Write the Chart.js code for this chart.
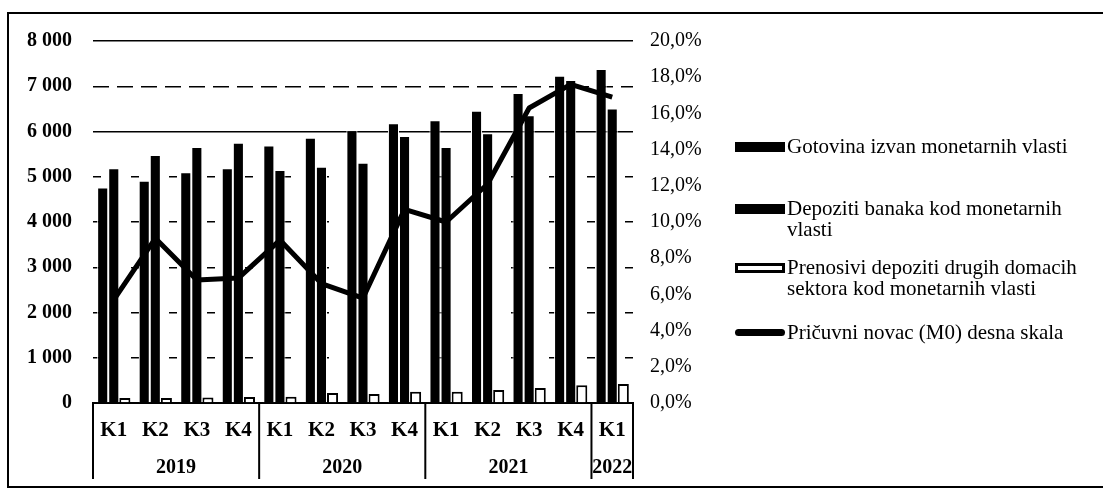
<!DOCTYPE html>
<html>
<head>
<meta charset="utf-8">
<script src="https://cdn.jsdelivr.net/npm/chart.js@4/dist/chart.umd.min.js"></script>
<style>
  body { margin: 0; background: #fff; }
  #wrap { position: relative; width: 1103px; height: 488px; overflow: hidden; }
  #frame { position: absolute; left: 7px; top: 12px; width: 1120px; height: 476px; box-sizing: border-box; border: 2px solid #000; pointer-events: none; }
  #legend { position: absolute; left: 0; top: 0; font-family: "Liberation Serif", serif; font-size: 21px; line-height: 21px; color: #000; }
  .item { position: absolute; left: 735px; }
  .mark { position: absolute; left: 0; width: 50px; box-sizing: border-box; }
  .txt { position: absolute; left: 52px; white-space: nowrap; }
</style>
</head>
<body>
<div id="wrap">
  <canvas id="c" width="1103" height="488"></canvas>
  <div id="frame"></div>
  <div id="legend"></div>
</div>
<script>
// quarters and year groups
const quarters = ['K1', 'K2', 'K3', 'K4', 'K1', 'K2', 'K3', 'K4', 'K1', 'K2', 'K3', 'K4', 'K1'];
const years = ['2019', '2020', '2021', '2022'];
const quartersPerYear = [4, 4, 4, 1];

// series (mil. KM, left scale)
const gotovina = [4760, 4910, 5100, 5190, 5690, 5860, 6030, 6180, 6250, 6460, 6850, 7230, 7380];
const depozitiBanaka = [5190, 5480, 5660, 5750, 5150, 5220, 5310, 5900, 5660, 5960, 6360, 7140, 6510];
const prenosivi = [110, 110, 120, 130, 140, 220, 200, 250, 250, 290, 330, 390, 420];
// M0 growth, right scale (%)
const pricuvniNovac = [5.7, 9.1, 6.8, 6.9, 9.0, 6.6, 5.8, 10.7, 10.0, 12.1, 16.3, 17.6, 16.9];

const legendItems = [
  { text: ['Gotovina izvan monetarnih vlasti'], kind: 'bar' },
  { text: ['Depoziti banaka kod monetarnih', 'vlasti'], kind: 'bar' },
  { text: ['Prenosivi depoziti drugih domacih', 'sektora kod monetarnih vlasti'], kind: 'hollow' },
  { text: ['Pričuvni novac (M0) desna skala'], kind: 'line' }
];

const serif = '"Liberation Serif", "Times New Roman", serif';

// left axis: thousands with a space
function fmtThousands(v) {
  return v.toString().replace(/\B(?=(\d{3})+(?!\d))/g, ' ');
}

// gridline dash per value, mimics the scanned original
function gridDash(ctx) {
  const v = ctx.tick ? ctx.tick.value : 0;
  if (v === 8000 || v === 6000) return [];
  if (v === 7000) return [16, 8];
  return [8, 30];
}

// two-level category axis: year labels + dividers
const yearGroups = {
  id: 'yearGroups',
  afterDraw(chart) {
    const x = chart.scales.x;
    const ctx = chart.ctx;
    const top = chart.chartArea.bottom;
    const half = (x.getPixelForValue(1) - x.getPixelForValue(0)) / 2;
    ctx.save();
    ctx.strokeStyle = '#000';
    ctx.lineWidth = 2;
    ctx.fillStyle = '#000';
    ctx.font = 'bold 20px ' + serif;
    ctx.textAlign = 'center';
    ctx.textBaseline = 'middle';
    let start = 0;
    years.forEach((yr, i) => {
      const end = start + quartersPerYear[i] - 1;
      const left = x.getPixelForValue(start) - half;
      const right = x.getPixelForValue(end) + half;
      ctx.beginPath();
      ctx.moveTo(left, top);
      ctx.lineTo(left, top + 76);
      ctx.stroke();
      if (i === years.length - 1) {
        ctx.beginPath();
        ctx.moveTo(right, top);
        ctx.lineTo(right, top + 76);
        ctx.stroke();
      }
      ctx.fillText(yr, (left + right) / 2, top + 65);
      start = end + 1;
    });
    ctx.restore();
  }
};

new Chart(document.getElementById('c'), {
  type: 'bar',
  data: {
    labels: quarters,
    datasets: [
      {
        type: 'line',
        label: legendItems[3].text[0],
        data: pricuvniNovac,
        yAxisID: 'y1',
        borderColor: '#000',
        borderWidth: 5,
        pointRadius: 0,
        tension: 0,
        borderJoinStyle: 'round',
        order: 0
      },
      {
        label: legendItems[0].text[0],
        data: gotovina,
        yAxisID: 'y',
        backgroundColor: '#000',
        borderColor: '#fff',
        borderWidth: 1,
        order: 1
      },
      {
        label: legendItems[1].text.join(' '),
        data: depozitiBanaka,
        yAxisID: 'y',
        backgroundColor: '#000',
        borderColor: '#fff',
        borderWidth: 1,
        order: 1
      },
      {
        label: legendItems[2].text.join(' '),
        data: prenosivi,
        yAxisID: 'y',
        backgroundColor: '#fff',
        borderColor: '#000',
        borderWidth: 2,
        order: 1
      }
    ]
  },
  options: {
    responsive: false,
    animation: false,
    layout: { padding: { left: 0, right: 370, top: 41, bottom: 0 } },
    plugins: {
      legend: { display: false },
      tooltip: { enabled: false }
    },
    datasets: {
      bar: { categoryPercentage: 0.8, barPercentage: 1 }
    },
    scales: {
      x: {
        grid: { display: false, drawTicks: false },
        border: { display: true, color: '#000', width: 2 },
        ticks: { color: '#000', font: { family: serif, size: 21, weight: 'bold' }, padding: 15, autoSkip: false, maxRotation: 0 },
        afterFit(scale) { scale.height = 85; }
      },
      y: {
        position: 'left',
        min: 0,
        max: 8000,
        ticks: { stepSize: 1000, color: '#000', font: { family: serif, size: 20, weight: 'bold' }, padding: 21, callback: v => fmtThousands(v) },
        grid: { color: '#000', lineWidth: 1.5, drawTicks: false },
        border: { display: false, dash: gridDash },
        afterFit(scale) { scale.width = 93; }
      },
      y1: {
        position: 'right',
        min: 0,
        max: 20,
        ticks: { stepSize: 2, color: '#000', font: { family: serif, size: 20 }, padding: 17, callback: v => v.toFixed(1).replace('.', ',') + '%' },
        grid: { display: false, drawTicks: false },
        border: { display: false },
        afterFit(scale) { scale.width = 100; }
      }
    }
  },
  plugins: [yearGroups]
});

// legend drawn as html next to the plot
const legendTops = [147, 209, 268, 333];
const legend = document.getElementById('legend');
legendItems.forEach((item, i) => {
  const el = document.createElement('div');
  el.className = 'item';
  el.style.top = legendTops[i] + 'px';
  const mark = document.createElement('div');
  mark.className = 'mark';
  if (item.kind === 'bar') {
    mark.style.cssText += 'top:-5px;height:10px;background:#000;';
  } else if (item.kind === 'hollow') {
    mark.style.cssText += 'top:-5px;height:10px;background:#fff;border:3px solid #000;';
  } else {
    mark.style.cssText += 'top:-4px;height:7px;background:#000;border-radius:4px;';
  }
  const txt = document.createElement('div');
  txt.className = 'txt';
  txt.style.top = '-11px';
  txt.innerHTML = item.text.join('<br>');
  el.appendChild(mark);
  el.appendChild(txt);
  legend.appendChild(el);
});
</script>
</body>
</html>
